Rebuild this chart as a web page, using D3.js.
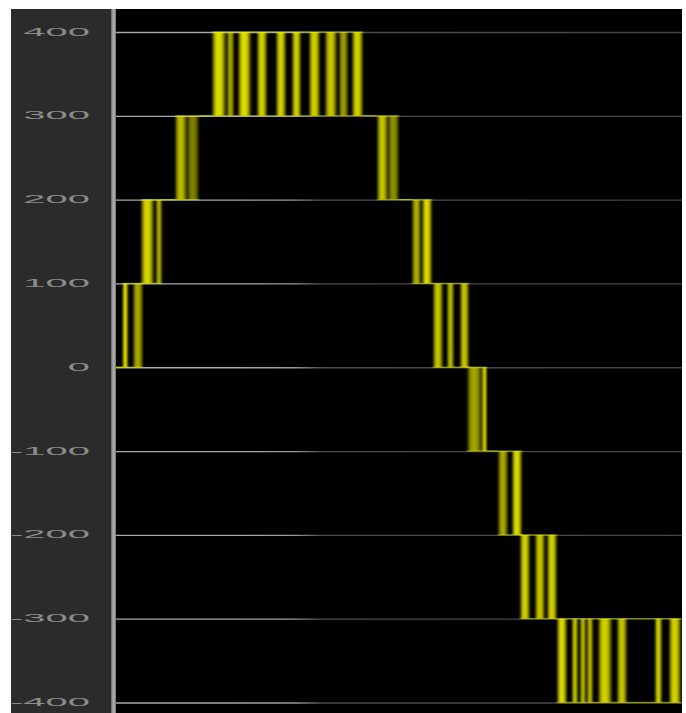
<!DOCTYPE html>
<html><head><meta charset="utf-8">
<script src="https://cdn.jsdelivr.net/npm/d3@7/dist/d3.min.js"></script>
<style>html,body{margin:0;padding:0;background:#fff;}svg{display:block;}</style>
</head><body>
<script>
// ---- data ----
const tickValues = [400, 300, 200, 100, 0, -100, -200, -300, -400];
const tickLabels = ["400", "300", "200", "100", "0", "-100", "-200", "-300", "-400"];
// each band: the signal dithers between bandFrom and bandTo
const bandFrom = [0, 100, 200, 300, 300, 200, 100, 0, -100, -200, -300];
const bandTo   = [100, 200, 300, 400, 200, 100, 0, -100, -200, -300, -400];
// dither bursts (time units), band index and brightness
const burstStart = [6.5, 17, 25, 40, 59, 71, 96, 111, 122, 141, 160, 176, 193, 209, 223, 236, 261, 272, 296, 306, 317, 331, 344, 351, 366, 382, 396, 404, 419, 431, 441, 456, 464, 471, 482, 501, 539, 553];
const burstEnd   = [12, 27, 38, 46, 71, 83, 110, 118, 135, 151, 170, 185, 204, 221, 232, 247, 272, 283, 305, 316, 327, 338, 353, 366, 371, 392, 406, 414, 429, 441, 451, 462, 470, 477, 496, 511, 546, 565];
const burstBand  = [0, 0, 1, 1, 2, 2, 3, 3, 3, 3, 3, 3, 3, 3, 3, 3, 4, 4, 5, 5, 6, 6, 6, 7, 7, 8, 8, 9, 9, 9, 10, 10, 10, 10, 10, 10, 10, 10];
const burstLevel = [1.0, 0.72, 0.92, 0.78, 0.8, 0.55, 0.95, 0.72, 0.95, 0.9, 0.9, 0.9, 0.9, 0.85, 0.68, 0.9, 0.85, 0.62, 0.75, 0.95, 0.85, 0.8, 0.85, 0.7, 0.95, 0.72, 0.95, 0.9, 0.85, 0.9, 0.95, 0.85, 0.8, 0.8, 0.9, 0.85, 0.9, 0.9];
const timeDomain = [0, 566];

// ---- layout ----
const W = 686, H = 713;
const panel = {x: 11, y: 9, w: 100};
const plot = {x0: 116, x1: 682, top: 9, bottom: 713};

const svg = d3.select("body").append("svg").attr("width", W).attr("height", H);
const defs = svg.append("defs");

const x = d3.scaleLinear().domain(timeDomain).range([plot.x0, plot.x1]);
const y = d3.scaleLinear().domain([-400, 400]).range([702.5, 32]);

// background
svg.append("rect").attr("x", 0).attr("y", 0).attr("width", W).attr("height", H).attr("fill", "#fff");
svg.append("rect").attr("x", panel.x).attr("y", panel.y).attr("width", panel.w).attr("height", H - panel.y).attr("fill", "#2b2b2b");
svg.append("rect").attr("x", plot.x0).attr("y", plot.top).attr("width", plot.x1 - plot.x0).attr("height", plot.bottom - plot.top).attr("fill", "#000");

// gray divider bar
const gBar = defs.append("linearGradient").attr("id", "bar").attr("x1", "0").attr("x2", "1").attr("y1", "0").attr("y2", "0");
gBar.append("stop").attr("offset", "0").attr("stop-color", "#6a6a6a");
gBar.append("stop").attr("offset", "0.5").attr("stop-color", "#b0b0b0");
gBar.append("stop").attr("offset", "1").attr("stop-color", "#7a7a7a");
svg.append("rect").attr("x", 111).attr("y", panel.y).attr("width", 5).attr("height", H - panel.y).attr("fill", "url(#bar)");

// grid lines (fade from light to dark)
const gGrid = defs.append("linearGradient").attr("id", "grid").attr("gradientUnits", "userSpaceOnUse")
  .attr("x1", plot.x0).attr("x2", plot.x1).attr("y1", 0).attr("y2", 0);
gGrid.append("stop").attr("offset", "0").attr("stop-color", "#a8a8a8");
gGrid.append("stop").attr("offset", "0.11").attr("stop-color", "#9a9a9a");
gGrid.append("stop").attr("offset", "0.16").attr("stop-color", "#4c4c4c");
gGrid.append("stop").attr("offset", "1").attr("stop-color", "#444");

const yAxis = d3.axisLeft(y).tickValues(tickValues).tickSize(-(plot.x1 - plot.x0)).tickFormat("");
const gA = svg.append("g").attr("transform", `translate(${plot.x0},0)`).call(yAxis);
gA.select(".domain").remove();
gA.selectAll(".tick line").attr("stroke", "url(#grid)").attr("stroke-width", 1.3);

// tick labels (horizontally stretched)
const sx = 4;
svg.append("g").selectAll("text").data(tickValues).join("text")
  .attr("transform", d => `translate(90,${y(d)}) scale(${sx},1)`)
  .attr("text-anchor", "end")
  .attr("dy", "0.36em")
  .attr("font-family", "Liberation Sans, Arial, sans-serif")
  .attr("font-size", 10)
  .attr("fill", "#8c8c8c")
  .text((d, i) => tickLabels[i]);

// signal
const clip = defs.append("clipPath").attr("id", "clip");
clip.append("rect").attr("x", plot.x0).attr("y", plot.top).attr("width", plot.x1 - plot.x0).attr("height", plot.bottom - plot.top);
const blur = defs.append("filter").attr("id", "soft").attr("x", "-5%").attr("width", "110%");
blur.append("feGaussianBlur").attr("stdDeviation", "0.9 0");
const sig = svg.append("g").attr("clip-path", "url(#clip)").append("g").attr("filter", "url(#soft)");

const gB = defs.append("linearGradient").attr("id", "burst").attr("x1", "0").attr("x2", "1").attr("y1", "0").attr("y2", "0");
[[0, 0.15], [0.22, 0.85], [0.45, 1], [0.7, 0.9], [1, 0.2]].forEach(([o, a]) =>
  gB.append("stop").attr("offset", o).attr("stop-color", "#f0f000").attr("stop-opacity", a));

const bursts = burstStart.map((s, i) => ({s, e: burstEnd[i], b: burstBand[i], lv: burstLevel[i]}));

// band extents
const bands = bandFrom.map((f, i) => {
  const bs = bursts.filter(d => d.b === i);
  return {from: f, to: bandTo[i], s: d3.min(bs, d => d.s), e: d3.max(bs, d => d.e)};
});

// horizontal resting lines at both levels of each band + connectors at the shared level
const hseg = [];
hseg.push({x0: timeDomain[0] - 4, x1: bands[0].s, v: bandFrom[0]});
bands.forEach((bd, i) => {
  hseg.push({x0: bd.s, x1: bd.e, v: bd.from, o: 0.55});
  hseg.push({x0: bd.s, x1: bd.e, v: bd.to, o: 0.55});
  if (i < bands.length - 1) {
    const nb = bands[i + 1];
    const shared = [bd.from, bd.to].find(v => v === nb.from || v === nb.to);
    hseg.push({x0: Math.min(bd.e, nb.s), x1: Math.max(bd.e, nb.s), v: shared});
  }
});
sig.selectAll("line.h").data(hseg).join("line").attr("class", "h")
  .attr("x1", d => x(d.x0)).attr("x2", d => x(d.x1))
  .attr("y1", d => y(d.v)).attr("y2", d => y(d.v))
  .attr("stroke", "#d8d800").attr("stroke-width", 1.3).attr("stroke-opacity", d => d.o || 0.85);

sig.selectAll("rect.burst").data(bursts).join("rect").attr("class", "burst")
  .attr("x", d => x(d.s))
  .attr("width", d => x(d.e) - x(d.s))
  .attr("y", d => y(Math.max(bands[d.b].from, bands[d.b].to)))
  .attr("height", d => Math.abs(y(bands[d.b].from) - y(bands[d.b].to)))
  .attr("fill", "url(#burst)")
  .attr("opacity", d => d.lv);
</script>
</body></html>
